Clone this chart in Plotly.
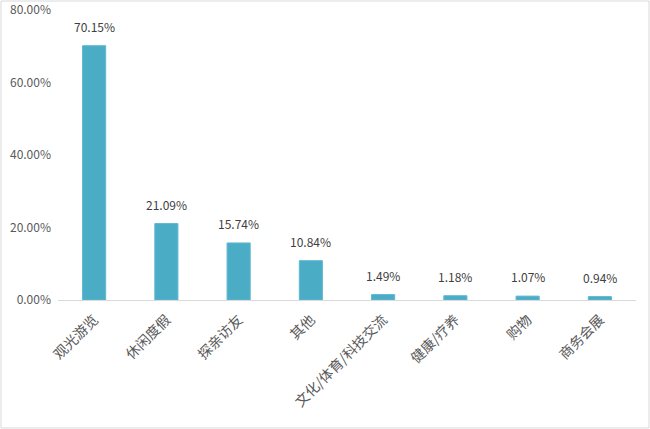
import plotly.graph_objects as go

categories = ["观光游览", "休闲度假", "探亲访友", "其他", "文化/体育/科技交流", "健康/疗养", "购物", "商务会展"]
shares = [70.15, 21.09, 15.74, 10.84, 1.49, 1.18, 1.07, 0.94]
y_ticks = [0, 20, 40, 60, 80]

W, H = 650, 429
ml, mr, mt, mb = 58, 14, 6, 129

fig = go.Figure()
fig.add_trace(go.Bar(
    x=categories,
    y=[v / 100 for v in shares],
    marker=dict(color="#4BACC6", line=dict(color="#5FB8D0", width=1)),
    width=0.32,
    cliponaxis=False,
))

# value labels a bit above the bars, like excel does
for c, v in zip(categories, shares):
    fig.add_annotation(x=c, y=v / 100, text=f"{v:.2f}%", showarrow=False,
                       yanchor="bottom", yshift=9,
                       font=dict(size=12, color="#404040"))

pw = W - ml - mr
ph = H - mt - mb
# light grey frame round the whole chart
fig.add_shape(type="rect", xref="paper", yref="paper",
              x0=-(ml - 1) / pw, x1=1 + (mr - 1) / pw,
              y0=-(mb - 1) / ph, y1=1 + (mt - 1) / ph,
              line=dict(color="#D9D9D9", width=1))

fig.update_layout(
    width=W, height=H,
    margin=dict(l=ml, r=mr, t=mt, b=mb, autoexpand=False),
    plot_bgcolor="white", paper_bgcolor="white",
    font=dict(family="Noto Sans CJK SC, Liberation Sans", size=12, color="#595959"),
    showlegend=False,
    bargap=0.7,
    xaxis=dict(tickangle=-45, showline=True, linecolor="#D9D9D9", linewidth=1,
               ticks="", automargin=False, ticklabelstandoff=5,
               tickfont=dict(size=14, color="#595959")),
    yaxis=dict(range=[0, 0.811], tickvals=[t / 100 for t in y_ticks], tickformat=".2%",
               showgrid=False, zeroline=False, showline=False, ticks="",
               ticklabeloverflow="allow", automargin=False, ticklabelstandoff=6,
               tickfont=dict(size=12, color="#595959")),
)

fig.write_html("out.html", config={"displayModeBar": False},
               post_script="document.body.style.margin='0';")
